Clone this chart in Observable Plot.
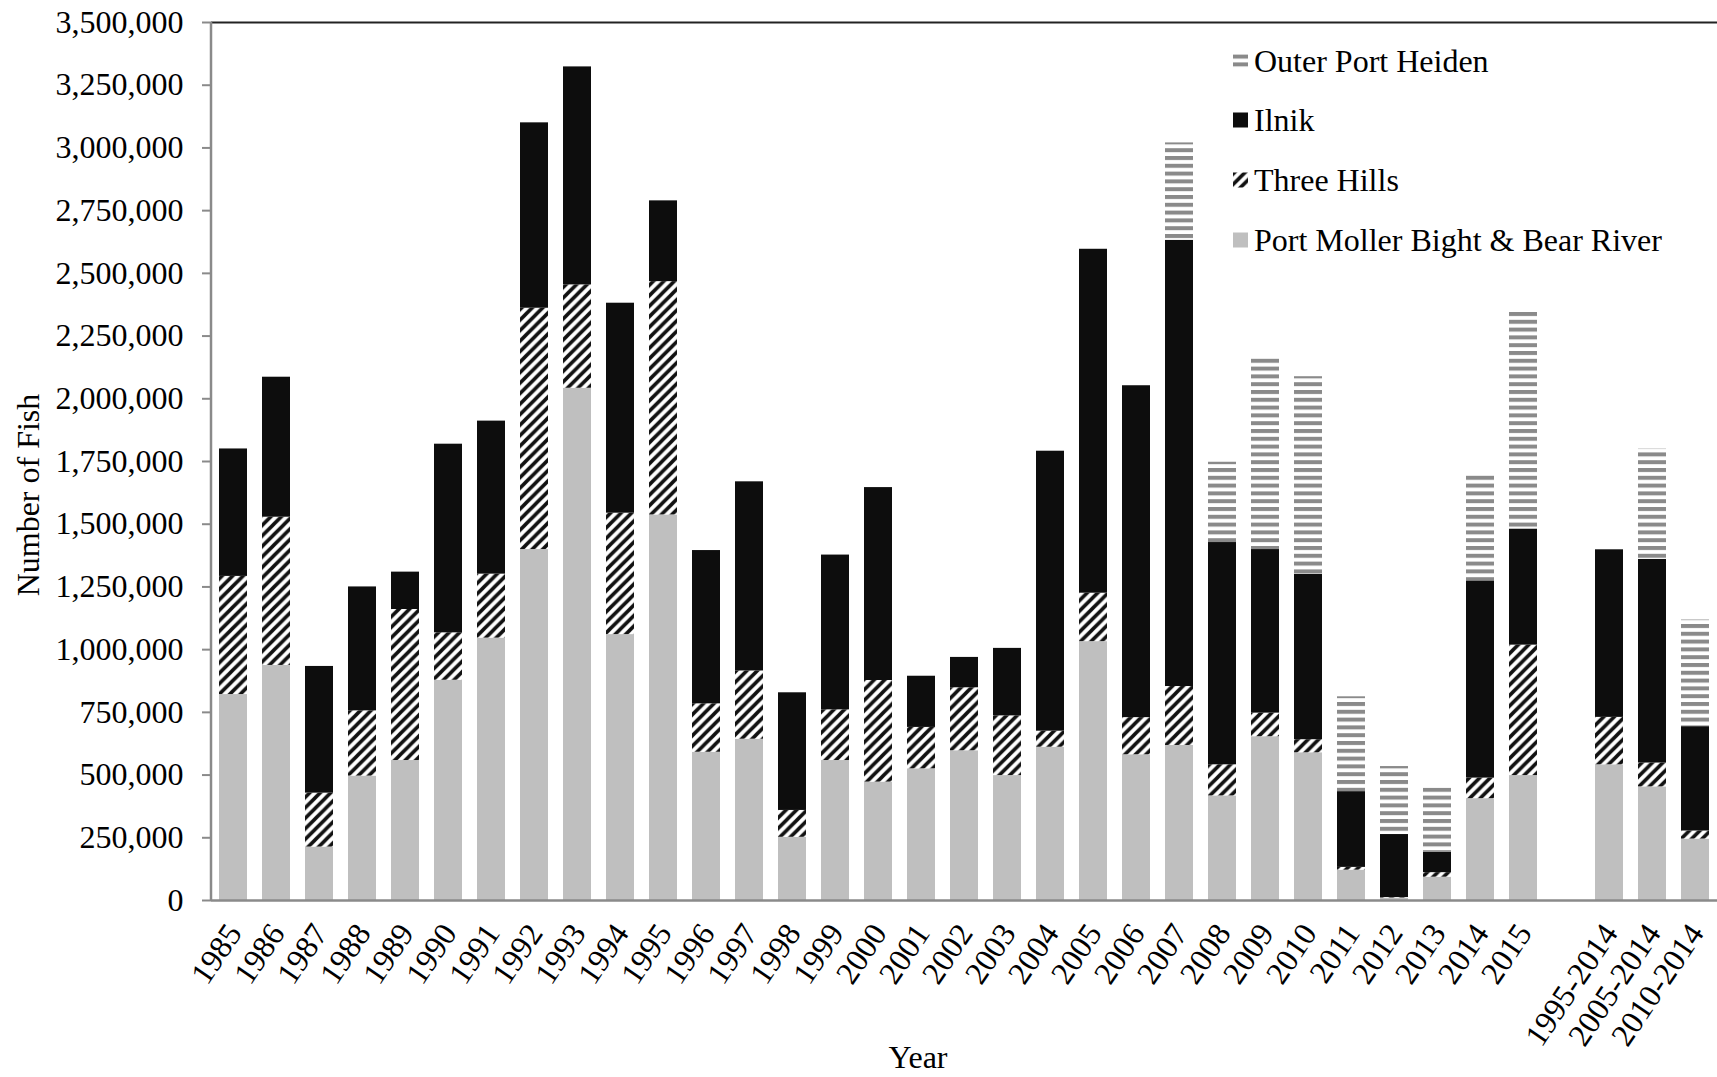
<!DOCTYPE html>
<html><head><meta charset="utf-8">
<script src="https://cdn.jsdelivr.net/npm/d3@7"></script>
<script src="https://cdn.jsdelivr.net/npm/@observablehq/plot@0.6"></script>
<style>
html,body{margin:0;padding:0;background:#fff;}
#wrap{position:relative;width:1717px;height:1077px;}
</style></head><body>
<svg width="0" height="0" style="position:absolute;left:0;top:0">
<defs>
<pattern id="hatchTH" patternUnits="userSpaceOnUse" width="10.5" height="10.5">
 <rect width="10.5" height="10.5" fill="#ffffff"/>
 <path d="M-2.625,2.625 L2.625,-2.625 M0,10.5 L10.5,0 M7.875,13.125 L13.125,7.875" stroke="#111111" stroke-width="3.6"/>
</pattern>
<pattern id="hatchOPH" patternUnits="userSpaceOnUse" width="8" height="7.8">
 <rect width="8" height="7.8" fill="#ffffff"/>
 <rect y="0" width="8" height="4" fill="#8a8a8a"/>
</pattern>
</defs></svg>
<div id="wrap"></div>
<script>
const categories = ["1985","1986","1987","1988","1989","1990","1991","1992","1993","1994","1995","1996","1997","1998","1999","2000","2001","2002","2003","2004","2005","2006","2007","2008","2009","2010","2011","2012","2013","2014","2015","1995-2014","2005-2014","2010-2014"];
const portMoller = [821000,937000,213000,496000,558000,878000,1046000,1399000,2042000,1060000,1537000,591000,643000,252000,558000,472000,525000,597000,498000,611000,1032000,581000,618000,417000,653000,589000,121000,10000,93000,406000,498000,541000,453000,245000];
const threeHills = [471000,591000,215000,260000,602000,189000,255000,962000,412000,484000,930000,193000,272000,107000,202000,405000,165000,251000,238000,64000,193000,148000,235000,124000,94000,52000,11000,2000,18000,82000,520000,189000,95000,32000];
const ilnik = [508000,558000,505000,494000,149000,752000,610000,739000,869000,837000,322000,611000,754000,469000,617000,769000,204000,121000,269000,1116000,1371000,1323000,1779000,886000,652000,660000,302000,251000,81000,786000,463000,668000,812000,416000];
const outerPortHeiden = [0,0,0,0,0,0,0,0,0,0,0,0,0,0,0,0,0,0,0,0,0,0,388000,320000,765000,787000,378000,271000,256000,423000,867000,0,440000,425000];
const seriesNames = ["Port Moller Bight & Bear River","Three Hills","Ilnik","Outer Port Heiden"];
const seriesFills = ["#bfbfbf","url(#hatchTH)","#0d0d0d","url(#hatchOPH)"];
const yTicks = d3.range(0, 3500001, 250000);
const xTitle = "Year";
const yTitle = "Number of Fish";
const gapKey = "__gap__";

const domain = [...categories.slice(0, 31), gapKey, ...categories.slice(31)];
const seriesArrays = [portMoller, threeHills, ilnik, outerPortHeiden];
const table = [];
categories.forEach((c, i) => {
  seriesArrays.forEach((arr, s) => table.push({cat: c, series: seriesNames[s], value: arr[i]}));
});

const FONT = "'Liberation Serif','Times New Roman',serif";

const plot = Plot.plot({
  width: 1717, height: 1077,
  marginLeft: 211, marginRight: 0, marginTop: 22, marginBottom: 177,
  style: {fontFamily: FONT, background: "white", color: "black", fontSize: "32px"},
  x: {domain, paddingInner: 0.35, paddingOuter: 0.175, axis: null},
  y: {domain: [0, 3500000], axis: null},
  color: {type: "ordinal", domain: seriesNames, range: seriesFills},
  marks: [
    Plot.barY(table, {x: "cat", y: "value", fill: "series"}),
    Plot.ruleY([0], {stroke: "#8a8a8a", strokeWidth: 2.5}),
    Plot.ruleY([3500000], {stroke: "#222", strokeWidth: 2}),
    Plot.axisY({ticks: yTicks, tickFormat: d3.format(","), tickSize: 9, tickPadding: 19, fontSize: 32, stroke: "#8a8a8a", strokeWidth: 2, label: null}),
    Plot.text(categories, {x: d => d, frameAnchor: "bottom", dy: 27, dx: 1, rotate: -56, textAnchor: "end", lineAnchor: "middle", fontSize: 32, fill: "black"})
  ]
});

const svg = d3.select(plot);
const xr = plot.scale("x").range;
const yr = plot.scale("y").range;
// left axis line
svg.append("line").attr("x1", xr[0]).attr("x2", xr[0]).attr("y1", yr[0] + 1).attr("y2", yr[1])
  .attr("stroke", "#8a8a8a").attr("stroke-width", 2.5);
// axis titles
svg.append("text").text(xTitle).attr("x", 918).attr("y", 1068).attr("text-anchor", "middle")
  .attr("font-size", 32).attr("font-family", FONT).attr("fill", "black");
svg.append("text").text(yTitle).attr("transform", "translate(39,495) rotate(-90)").attr("text-anchor", "middle")
  .attr("font-size", 32).attr("font-family", FONT).attr("fill", "black");
// legend
const legendOrder = [3, 2, 1, 0];
const legendRowY = [61, 120, 180, 240];
const lg = svg.append("g").attr("text-anchor", "start");
legendOrder.forEach((s, k) => {
  const cy = legendRowY[k];
  lg.append("rect").attr("x", 1233).attr("y", cy - 7.5).attr("width", 15).attr("height", 15).attr("fill", seriesFills[s]);
  lg.append("text").text(seriesNames[s]).attr("x", 1254).attr("y", cy + 11).attr("font-size", 32)
    .attr("text-anchor", "start").attr("font-family", FONT).attr("fill", "black");
});

document.getElementById("wrap").appendChild(plot);
</script>
</body></html>
